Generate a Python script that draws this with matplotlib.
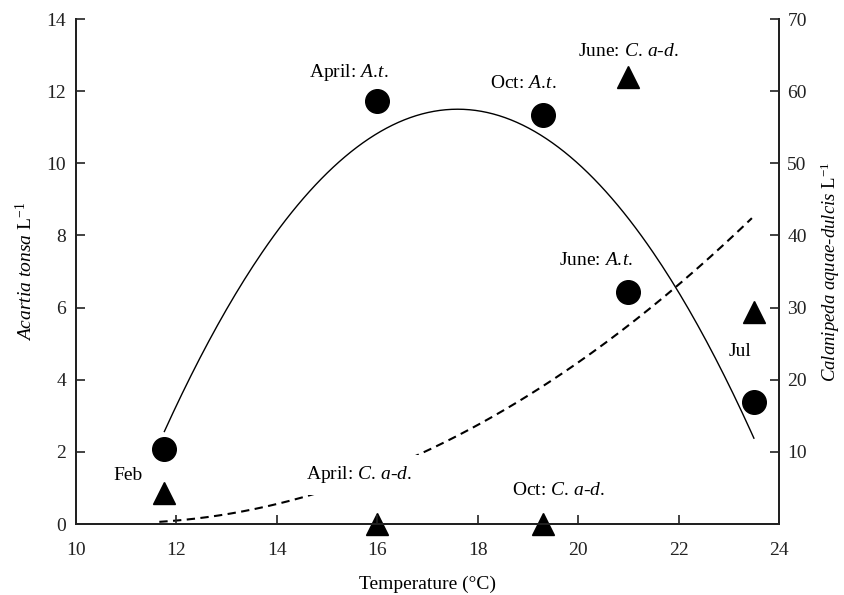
import numpy as np
import matplotlib
matplotlib.use("Agg")
import matplotlib.pyplot as plt

plt.rcParams['font.family'] = ['Liberation Serif', 'DejaVu Serif']
plt.rcParams['mathtext.fontset'] = 'custom'
plt.rcParams['mathtext.rm'] = 'Liberation Serif'
plt.rcParams['mathtext.it'] = 'Liberation Serif:italic'

# Acartia tonsa (left axis, ind. per L)
temp_at = [11.75, 16.0, 19.3, 21.0, 23.5]
acartia = [2.08, 11.73, 11.33, 6.42, 3.38]

# Calanipeda aquae-dulcis (right axis, ind. per L)
temp_ca = [11.75, 16.0, 19.3, 21.0, 23.5]
calanipeda = [4.3, 0.0, 0.0, 62.0, 29.4]

# fitted curves (polynomial coefficients, highest first)
fit_at = [-0.262, 9.2224, -69.657]      # left axis units
fit_at_range = (11.76, 23.5)
fit_ca = [0.2655, -5.7565, 31.325]      # right axis units
fit_ca_range = (11.66, 23.46)

AT = '$\\mathit{A.\\!t.}$'
CAD = '$\\mathit{C.\\,a}$-$\\mathit{d.}$'

# point labels: text, x, y (left-axis units)
labels = [
    ('April: ' + AT, 15.43, 12.53),
    ('Oct: ' + AT, 18.91, 12.21),
    ('June: ' + CAD, 21.0, 13.09),
    ('June: ' + AT, 20.35, 7.3),
    ('Jul', 23.22, 4.77),
    ('Feb', 11.04, 1.34),
    ('Oct: ' + CAD, 19.6, 0.94),
]
april_ca_label = ('April: ' + CAD, 15.64, 1.36)

FS = 14

fig = plt.figure(figsize=(8.45, 5.95), dpi=100)
ax = fig.add_axes([0.0899, 0.1193, 0.8320, 0.8487])
ax2 = ax.twinx()

ax.set_xlim(10, 24)
ax.set_ylim(0, 14)
ax2.set_ylim(0, 70)
ax.set_xticks(range(10, 25, 2))
ax.set_yticks(range(0, 15, 2))
ax2.set_yticks(range(10, 71, 10))

# curves
xs = np.linspace(*fit_at_range, 200)
ax.plot(xs, np.polyval(fit_at, xs), color='black', lw=1.0, zorder=2)
xs2 = np.linspace(*fit_ca_range, 200)
ax2.plot(xs2, np.polyval(fit_ca, xs2), color='black', lw=1.5,
         linestyle=(0, (4, 2.6)), zorder=2)

# markers
ax.plot(temp_at, acartia, 'o', color='black', ms=17, ls='none', clip_on=False, zorder=4)
ax2.plot(temp_ca, calanipeda, '^', color='black', ms=15.5, ls='none', clip_on=False, zorder=4)

for txt, x, y in labels:
    ax.text(x, y, txt, ha='center', va='center', fontsize=FS, zorder=5)
ax.text(april_ca_label[1], april_ca_label[2], april_ca_label[0], ha='center', va='center',
        fontsize=FS, zorder=5,
        bbox=dict(boxstyle='square,pad=0.5', fc='white', ec='none'))

# the label box must sit above the dashed line on ax2
ax.set_zorder(ax2.get_zorder() + 1)
ax.patch.set_visible(False)

for a in (ax, ax2):
    a.spines['top'].set_visible(False)
    for s in ('left', 'right', 'bottom'):
        a.spines[s].set_linewidth(1.4)
        a.spines[s].set_color('#222222')
    a.tick_params(direction='in', length=6.5, width=1.2, labelsize=FS, colors='#222222')
ax.tick_params(axis='x', pad=13)
ax.tick_params(axis='y', pad=7)
ax2.tick_params(axis='y', pad=6)

ax.set_xlabel('Temperature (°C)', fontsize=FS)
ax.set_ylabel('$\\mathit{Acartia\\ tonsa}$ L$^{\\mathrm{-1}}$', fontsize=FS)
ax2.set_ylabel('$\\mathit{Calanipeda\\ aquae}$-$\\mathit{dulcis}$ L$^{\\mathrm{-1}}$', fontsize=13.5)
ax.yaxis.set_label_coords(-0.056, 0.5)
ax2.yaxis.set_label_coords(1.056, 0.5)
ax.xaxis.set_label_coords(0.5, -0.103)

fig.savefig('out.png', dpi=100)
